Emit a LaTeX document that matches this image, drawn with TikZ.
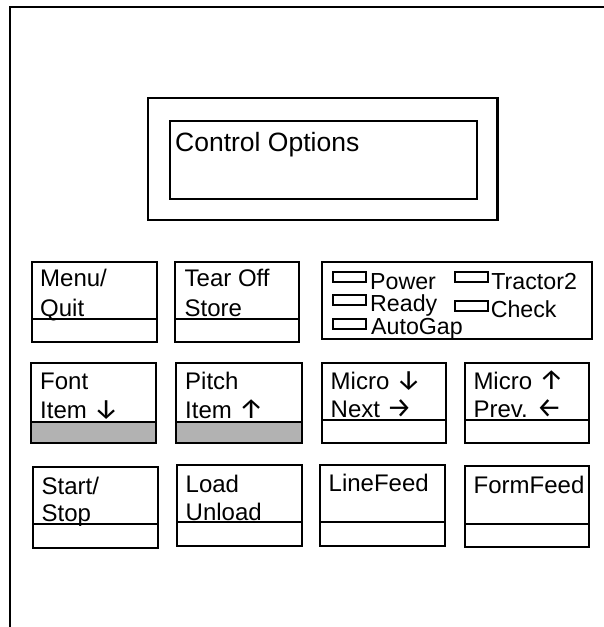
\documentclass[tikz,border=0pt]{standalone}
\usepackage{fontspec}
\setmainfont{Liberation Sans}
\newfontfamily\arrowfont{Fira Sans}
\newcommand{\dnar}{{\arrowfont\fontsize{28}{28}\selectfont ↓}}
\newcommand{\upar}{{\arrowfont\fontsize{28}{28}\selectfont ↑}}
\newcommand{\rtar}{{\arrowfont\fontsize{28}{28}\selectfont →}}
\newcommand{\ltar}{{\arrowfont\fontsize{28}{28}\selectfont ←}}
\begin{document}
\begin{tikzpicture}[x=1pt,y=-1pt,
  frameline/.style={draw=black, line width=2.3pt},
  keybox/.style={draw=black, line width=2.3pt},
  divline/.style={draw=black, line width=2.3pt},
  graybar/.style={fill=black!30, draw=black, line width=2.3pt},
  ledbox/.style={draw=black, line width=2pt},
  lbl/.style={anchor=base west, inner sep=0pt, font=\fontsize{24}{24}\selectfont},
  ledlbl/.style={anchor=base west, inner sep=0pt, font=\fontsize{23.2}{23.2}\selectfont},
  ttl/.style={anchor=base west, inner sep=0pt, font=\fontsize{26.5}{26.5}\selectfont}]
\useasboundingbox (0,0) rectangle (604,627);
% outer frame (only top and left visible)
\draw[frameline] (9.7,627) -- (9.7,6.7) -- (604,6.7);
% display
\draw[keybox] (148.3,98.3) rectangle (497.5,220);
\draw[keybox] (170,121) rectangle (476.7,199);
\node[ttl] (title) at (175,151.7) {Control Options};
% row 1
\draw[keybox] (31.7,261.7) rectangle (156.7,341.7);
\draw[divline] (31.7,319.3) -- (156.7,319.3);
\node[lbl] (menu1) at (40,286.7) {Menu/};
\node[lbl] (menu2) at (40,316.3) {Quit};
\draw[keybox] (175,261.7) rectangle (299.3,341.7);
\draw[divline] (175,319.3) -- (299.3,319.3);
\node[lbl] (tear1) at (184.5,286.7) {Tear Off};
\node[lbl] (tear2) at (184.5,316.3) {Store};
% LED panel
\draw[keybox] (321.7,262.3) rectangle (592,339.3);
\draw[ledbox] (332.7,272.3) rectangle (365.7,282.3);
\draw[ledbox] (332.7,295) rectangle (365.7,305);
\draw[ledbox] (332.7,319) rectangle (365.7,329);
\draw[ledbox] (455,272.3) rectangle (488.3,282.3);
\draw[ledbox] (455,301) rectangle (488.3,311);
\node[ledlbl] (power) at (370,289.3) {Power};
\node[ledlbl] (ready) at (370,311.7) {Ready};
\node[ledlbl] (autogap) at (371,334.3) {AutoGap};
\node[ledlbl] (tractor) at (491.2,289.3) {Tractor2};
\node[ledlbl] (check) at (490.6,317.3) {Check};
% row 2
\draw[graybar] (30.7,421.7) rectangle (156,443.3);
\draw[keybox] (30.7,363.3) rectangle (156,443.3);
\node[lbl] (font1) at (40,389.3) {Font};
\node[lbl] (font2) at (40,418.5) {Item \dnar};
\draw[graybar] (175.7,421.7) rectangle (301.7,443.3);
\draw[keybox] (175.7,363.3) rectangle (301.7,443.3);
\node[lbl] (pitch1) at (185,389.3) {Pitch};
\node[lbl] (pitch2) at (185,418.5) {Item \upar};
\draw[keybox] (321.7,363.3) rectangle (446,442.7);
\draw[divline] (321.7,420) -- (446,420);
\node[lbl] (mdown1) at (330.5,389.3) {Micro \dnar};
\node[lbl] (mdown2) at (330.5,417) {Next \rtar};
\draw[keybox] (465,363.3) rectangle (589.3,442.7);
\draw[divline] (465,420) -- (589.3,420);
\node[lbl] (mup1) at (473.3,389.3) {Micro \upar};
\node[lbl] (mup2) at (473.3,417) {Prev. \ltar};
% row 3
\draw[keybox] (32.7,466.7) rectangle (158,547.7);
\draw[divline] (32.7,524) -- (158,524);
\node[lbl] (start1) at (41.5,494) {Start/};
\node[lbl] (start2) at (41.5,521.7) {Stop};
\draw[keybox] (176.7,464.7) rectangle (302.3,545.7);
\draw[divline] (176.7,521.7) -- (302.3,521.7);
\node[lbl] (load1) at (185.5,492.3) {Load};
\node[lbl] (load2) at (185.5,520.7) {Unload};
\draw[keybox] (320,464.7) rectangle (445,545.7);
\draw[divline] (320,521.7) -- (445,521.7);
\node[lbl] (linefeed) at (328.5,491.7) {LineFeed};
\draw[keybox] (465,465.7) rectangle (589,546.7);
\draw[divline] (465,524) -- (589,524);
\node[lbl] (formfeed) at (473.5,493.3) {FormFeed};
\end{tikzpicture}
\end{document}
